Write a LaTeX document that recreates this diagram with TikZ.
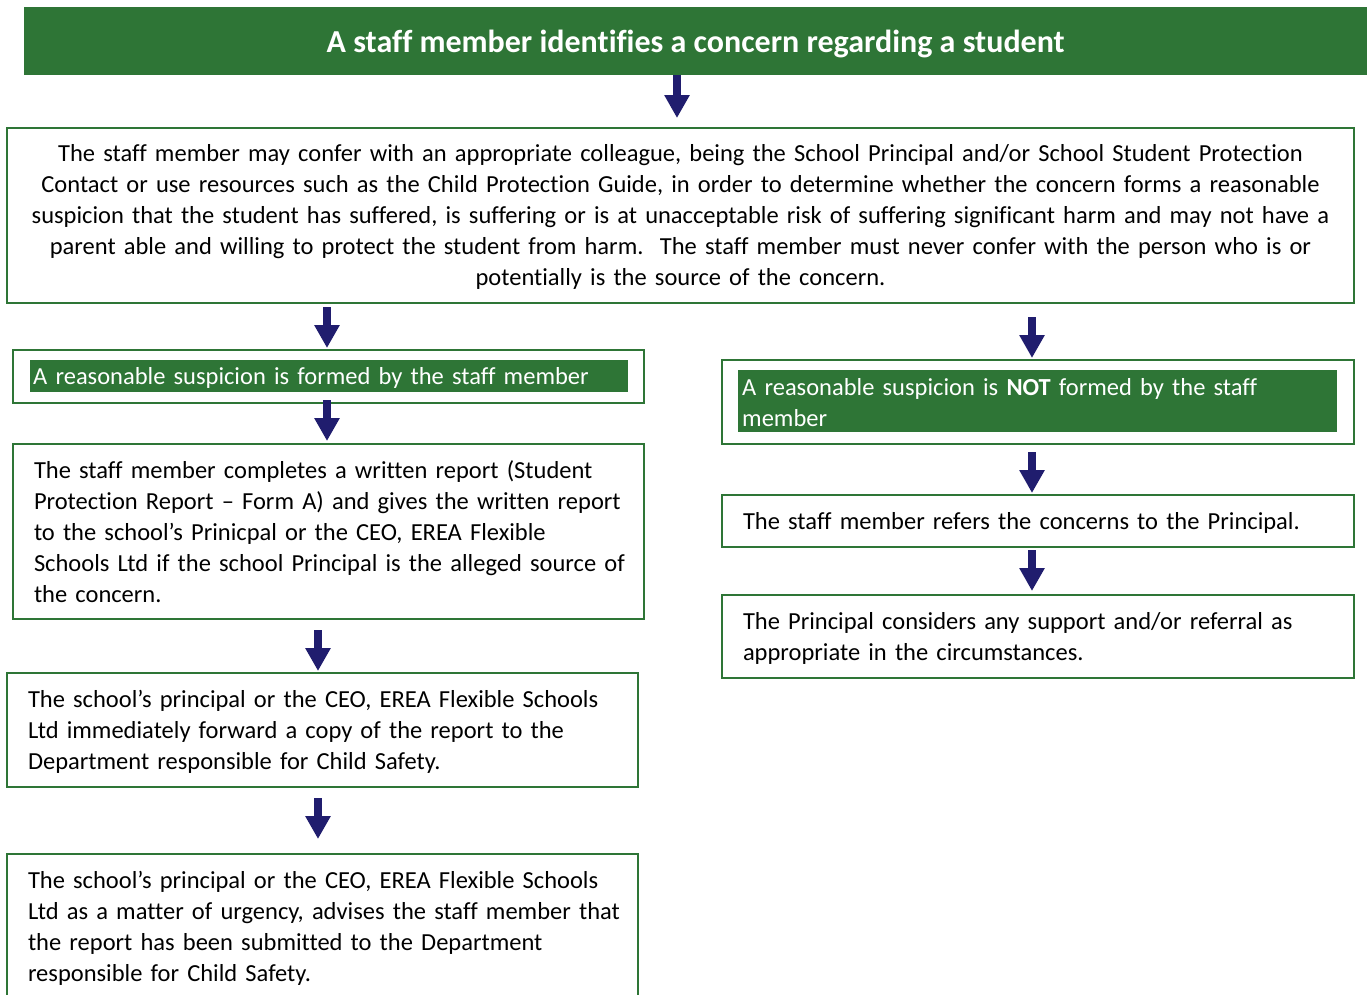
\documentclass[tikz,border=0pt]{standalone}
\usepackage{fontspec}
\setmainfont{Carlito}[Ligatures=CommonOff]
\usetikzlibrary{arrows.meta,calc}
\definecolor{grn}{RGB}{46,117,54}
\definecolor{navyarr}{RGB}{32,29,110}
\newcommand\myBody{\fontsize{24.5}{31}\selectfont}
\newcommand\myTitle{\fontsize{32}{38}\selectfont\bfseries}
\newcommand\myLines[2][-3pt]{\raisebox{#1}[\height][\depth]{\begin{tabular}{@{}l@{}}#2\end{tabular}}}
\newcommand\myCLines[2][-2pt]{\raisebox{#1}[\height][\depth]{\begin{tabular}{@{}c@{}}#2\end{tabular}}}
\begin{document}
\begin{tikzpicture}[x=1pt,y=-1pt,
  frame/.style={draw=grn, line width=2pt, anchor=north west, inner sep=0pt},
  box/.style={frame, inner xsep=21pt, inner ysep=0pt, font=\myBody, align=left},
  cbox/.style={frame, inner xsep=3.5pt, inner ysep=0pt, font=\myBody, align=center},
  hl/.style={fill=grn, text=white, anchor=north west, inner ysep=0pt, font=\myBody, align=left},
  titlebar/.style={fill=grn, text=white, anchor=north west, inner sep=0pt, font=\myTitle},
  arr/.style={draw=navyarr, line width=8pt, -{Triangle[width=24pt,length=23pt]}}
]
\useasboundingbox (0,0) rectangle (1367,994);
\fill[white] (0,0) rectangle (1367,994);
\clip (0,0) rectangle (1367,994);

\node[titlebar, minimum width=1343, minimum height=68] (title) at (24,7)
  {\raisebox{-3pt}[\height][\depth]{A staff member identifies a concern regarding a student}};

\node[cbox, text width=1340, minimum height=175] (b1) at (6,127)
  {\myCLines{The staff member may confer with an appropriate colleague, being the School Principal and/or School Student Protection\\
   Contact or use resources such as the Child Protection Guide, in order to determine whether the concern forms a reasonable\\
   suspicion that the student has suffered, is suffering or is at unacceptable risk of suffering significant harm and may not have a\\
   parent able and willing to protect the student from harm.\ \ The staff member must never confer with the person who is or\\
   potentially is the source of the concern.}};

% left column
\node[frame, minimum width=631, minimum height=53] (l1) at (12,349) {};
\node[hl, inner xsep=3pt, text width=592, minimum height=32] (l1t) at (30,360)
  {\myLines[-2pt]{A reasonable suspicion is formed by the staff member}};

\node[box, text width=589, minimum height=175] (l2) at (12,443)
  {\myLines{The staff member completes a written report (Student\\
   Protection Report – Form A) and gives the written report\\
   to the school’s Prinicpal or the CEO, EREA Flexible\\
   Schools Ltd if the school Principal is the alleged source of\\
   the concern.}};

\node[box, text width=589, minimum height=114] (l3) at (6,672)
  {\myLines[-2pt]{The school’s principal or the CEO, EREA Flexible Schools\\
   Ltd immediately forward a copy of the report to the\\
   Department responsible for Child Safety.}};

\node[box, text width=589, minimum height=147] (l4) at (6,853)
  {\myLines[-1pt]{The school’s principal or the CEO, EREA Flexible Schools\\
   Ltd as a matter of urgency, advises the staff member that\\
   the report has been submitted to the Department\\
   responsible for Child Safety.}};

% right column
\node[frame, minimum width=632, minimum height=84] (r1) at (721,359) {};
\node[hl, inner xsep=4pt, text width=591, minimum height=62] (r1t) at (738,370)
  {\myLines[-4pt]{A reasonable suspicion is \textbf{NOT} formed by the staff\\member}};

\node[box, text width=590, minimum height=52] (r2) at (721,494)
  {\myLines[-2pt]{The staff member refers the concerns to the Principal.}};

\node[box, text width=590, minimum height=83] (r3) at (721,594)
  {\myLines[-2pt]{The Principal considers any support and/or referral as\\
   appropriate in the circumstances.}};

% arrow x positions
\coordinate (xa) at (677,0);
\coordinate (xl) at (327,0);
\coordinate (xm) at (318,0);
\coordinate (xr) at (1032,0);

\draw[arr] (title.south -| xa) -- ($(b1.north -| xa)+(0,-9)$);
\draw[arr] ($(b1.south -| xl)+(0,3)$) -- ($(l1.north -| xl)+(0,-1)$);
\draw[arr] ($(l1.south -| xl)+(0,-4)$) -- ($(l2.north -| xl)+(0,-2)$);
\draw[arr] ($(l2.south -| xm)+(0,10)$) -- ($(l3.north -| xm)+(0,-1)$);
\draw[arr] ($(l3.south -| xm)+(0,10)$) -- ($(l4.north -| xm)+(0,-14)$);
\draw[arr] ($(b1.south -| xr)+(0,13)$) -- ($(r1.north -| xr)+(0,-1)$);
\draw[arr] ($(r1.south -| xr)+(0,7)$) -- ($(r2.north -| xr)+(0,-1)$);
\draw[arr] ($(r2.south -| xr)+(0,2)$) -- ($(r3.north -| xr)+(0,-3)$);
\end{tikzpicture}
\end{document}
